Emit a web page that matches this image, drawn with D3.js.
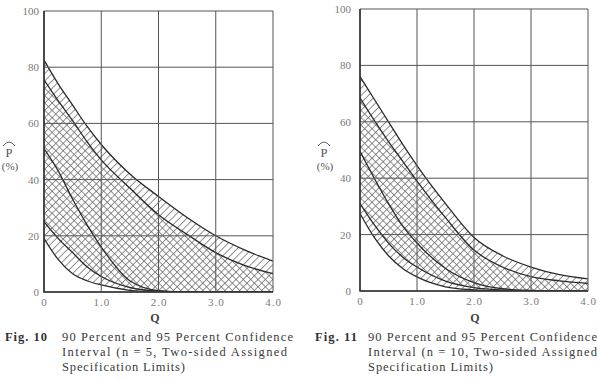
<!DOCTYPE html>
<html>
<head>
<meta charset="utf-8">
<script src="https://cdn.jsdelivr.net/npm/d3@7"></script>
<style>
  body { margin: 0; background: #fff; }
  text { font-family: "Liberation Serif", "DejaVu Serif", serif; }
</style>
</head>
<body>
<div id="chart"></div>
<script>
var qVals = [0, 0.25, 0.5, 0.75, 1.0, 1.5, 2.0, 2.5, 3.0, 3.5, 4.0];

// Fig. 10, n = 5
var f10Upper95 = [82.5, 74, 66.5, 59, 52.5, 42, 34, 26.5, 20, 15, 11];
var f10Upper90 = [75.5, 68, 61, 53.5, 47, 37, 27.5, 20.5, 14, 9.5, 6.5];
var f10Mid     = [51, 43, 33, 24, 16, 4, 0.5, 0, 0, 0, 0];
var f10Lower90 = [25, 19, 14, 9, 5.5, 1.6, 0.3, 0, 0, 0, 0];
var f10Lower95 = [19, 11.5, 6.5, 4, 2.5, 0.6, 0, 0, 0, 0, 0];

// Fig. 11, n = 10
var f11Upper95 = [76, 68, 60, 52, 44.5, 31, 19, 12.5, 8.5, 5.8, 4.3];
var f11Upper90 = [68.5, 60.5, 53, 46, 39, 26, 14.5, 8.5, 5.1, 3.6, 2.7];
var f11Mid     = [49.5, 40, 31, 23, 17, 8, 3, 0.8, 0.2, 0, 0];
var f11Lower90 = [31, 23.5, 17, 12, 8.5, 3.5, 1.2, 0.3, 0, 0, 0];
var f11Lower95 = [27.5, 19, 12.5, 8, 5, 1.5, 0.4, 0, 0, 0, 0];

var yTicks = [0, 20, 40, 60, 80, 100];
var xTicks = [0, 1, 2, 3, 4];
var xTickLabels = ["0", "1.0", "2.0", "3.0", "4.0"];

var svgWidth = 598;
var svgHeight = 381;

var svg = d3.select("#chart")
    .append("svg")
    .attr("width", svgWidth)
    .attr("height", svgHeight);

svg.append("rect").attr("width", svgWidth).attr("height", svgHeight).attr("fill", "#fff");

var defs = svg.append("defs");

// 95% band: "/" hatch, 90% band: "\" hatch -> overlap is cross-hatched
function hatch(id, angle) {
    var p = defs.append("pattern")
        .attr("id", id)
        .attr("patternUnits", "userSpaceOnUse")
        .attr("width", 5.2)
        .attr("height", 10)
        .attr("patternTransform", "rotate(" + angle + ")");
    p.append("line")
        .attr("x1", 0.5).attr("y1", 0)
        .attr("x2", 0.5).attr("y2", 10)
        .attr("stroke", "#6a6a6a")
        .attr("stroke-width", 0.8);
}
hatch("hatch95", 45);
hatch("hatch90", -45);

var panels = [
    {
        id: "p10", left: 44, right: 273, top: 11, bottom: 292, tickPad: 5,
        u95: f10Upper95, u90: f10Upper90, mid: f10Mid, l90: f10Lower90, l95: f10Lower95,
        pX: 9, qX: 155,
        figX: 5, textX: 62,
        lines: ["90 Percent and 95 Percent Confidence", "Interval (n\u2009=\u20095,  Two-sided Assigned", "Specification Limits)"],
        widths: [231, 225, 123],
        fig: "Fig. 10"
    },
    {
        id: "p11", left: 360, right: 588, top: 9, bottom: 291, tickPad: 9,
        u95: f11Upper95, u90: f11Upper90, mid: f11Mid, l90: f11Lower90, l95: f11Lower95,
        pX: 324, qX: 475,
        figX: 315, textX: 368,
        lines: ["90 Percent and 95 Percent Confidence", "Interval (n\u2009=\u200910,  Two-sided Assigned", "Specification Limits)"],
        widths: [229, 229, 125],
        fig: "Fig. 11"
    }
];

panels.forEach(function(pn) {
    var x = d3.scaleLinear().domain([0, 4]).range([pn.left, pn.right]);
    var y = d3.scaleLinear().domain([0, 100]).range([pn.bottom, pn.top]);
    var g = svg.append("g");

    defs.append("clipPath").attr("id", "clip-" + pn.id)
        .append("rect")
        .attr("x", pn.left).attr("y", pn.top)
        .attr("width", pn.right - pn.left).attr("height", pn.bottom - pn.top);

    var idx = d3.range(qVals.length);
    function band(up, lo) {
        return d3.area()
            .x(function(i) { return x(qVals[i]); })
            .y1(function(i) { return y(up[i]); })
            .y0(function(i) { return y(lo[i]); })
            .curve(d3.curveMonotoneX)(idx);
    }
    var line = function(vals) {
        return d3.line()
            .x(function(i) { return x(qVals[i]); })
            .y(function(i) { return y(vals[i]); })
            .curve(d3.curveMonotoneX)(idx);
    };

    var plot = g.append("g").attr("clip-path", "url(#clip-" + pn.id + ")");
    plot.append("path").attr("d", band(pn.u95, pn.l95)).attr("fill", "url(#hatch95)");
    plot.append("path").attr("d", band(pn.u90, pn.l90)).attr("fill", "url(#hatch90)");

    // grid
    g.selectAll(".vgrid").data(xTicks).enter().append("line")
        .attr("x1", function(d) { return x(d); }).attr("x2", function(d) { return x(d); })
        .attr("y1", pn.top).attr("y2", pn.bottom)
        .attr("stroke", "#555").attr("stroke-width", 1);
    g.selectAll(".hgrid").data(yTicks).enter().append("line")
        .attr("x1", pn.left).attr("x2", pn.right)
        .attr("y1", function(d) { return y(d); }).attr("y2", function(d) { return y(d); })
        .attr("stroke", "#555").attr("stroke-width", 1);

    // curves
    [pn.u95, pn.u90, pn.mid, pn.l90, pn.l95].forEach(function(vals) {
        plot.append("path").attr("d", line(vals))
            .attr("fill", "none").attr("stroke", "#2a2a2a").attr("stroke-width", 1.3);
    });

    // heavier left/bottom frame
    g.append("path")
        .attr("d", "M" + pn.left + "," + pn.top + "V" + pn.bottom + "H" + pn.right)
        .attr("fill", "none").attr("stroke", "#333").attr("stroke-width", 1.6);

    // axes (labels only)
    var leftAxis = d3.axisLeft(y).tickValues(yTicks).tickSize(0).tickPadding(pn.tickPad);
    var ga = g.append("g").attr("transform", "translate(" + pn.left + ",0)").call(leftAxis);
    ga.select(".domain").remove();
    ga.selectAll("text").attr("fill", "#7a7a7a").attr("font-size", "11px")
        .style("font-family", "Liberation Serif, serif");

    var bottomAxis = d3.axisBottom(x).tickValues(xTicks).tickSize(0).tickPadding(6)
        .tickFormat(function(d, i) { return xTickLabels[i]; });
    var gb = g.append("g").attr("transform", "translate(0," + pn.bottom + ")").call(bottomAxis);
    gb.select(".domain").remove();
    gb.selectAll("text").attr("fill", "#7a7a7a").attr("font-size", "11px")
        .attr("letter-spacing", "1px")
        .style("font-family", "Liberation Serif, serif");

    // y label: P with hat, (%)
    g.append("text").attr("x", pn.pX).attr("y", 157).attr("text-anchor", "middle")
        .attr("font-size", "12.5px").attr("fill", "#555").text("P");
    g.append("path")
        .attr("d", "M" + (pn.pX - 6) + ",146 Q" + pn.pX + ",138 " + (pn.pX + 6) + ",146")
        .attr("fill", "none").attr("stroke", "#555").attr("stroke-width", 0.9);
    g.append("text").attr("x", pn.pX + 1).attr("y", 170).attr("text-anchor", "middle")
        .attr("font-size", "11px").attr("fill", "#555").text("(%)");

    // x label
    g.append("text").attr("x", pn.qX).attr("y", 322).attr("text-anchor", "middle")
        .attr("font-size", "12px").attr("font-weight", "bold").attr("fill", "#444").text("Q");

    // caption
    g.append("text").attr("x", pn.figX).attr("y", 341)
        .attr("font-size", "12.5px").attr("font-weight", "bold").attr("fill", "#333")
        .attr("textLength", 42).attr("lengthAdjust", "spacing")
        .text(pn.fig);
    pn.lines.forEach(function(t, i) {
        g.append("text").attr("x", pn.textX).attr("y", 341 + i * 15)
            .attr("font-size", "12.5px").attr("fill", "#3a3a3a")
            .attr("textLength", pn.widths[i]).attr("lengthAdjust", "spacing")
            .text(t);
    });
});
</script>
</body>
</html>
